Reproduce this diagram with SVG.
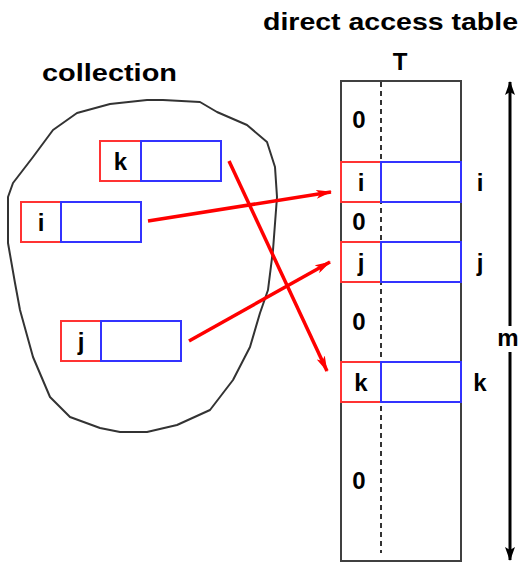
<svg xmlns="http://www.w3.org/2000/svg" width="521" height="563" viewBox="0 0 521 563">
<defs>
<style>
.t{font-family:"Liberation Sans",Arial,sans-serif;font-weight:bold;fill:#000;}
.lbl{font-size:24px;text-anchor:middle;}
.red{fill:none;stroke:#ff3333;stroke-width:2;}
.blue{fill:none;stroke:#3333ff;stroke-width:2;}
.ptr{stroke:#ff0000;stroke-width:3.5;fill:none;}
</style>
<marker id="ah" viewBox="0 0 16 9" refX="15" refY="4.5" markerWidth="16" markerHeight="9" markerUnits="userSpaceOnUse" orient="auto">
<path d="M0,0 L16,4.5 L0,9 L4,4.5 Z" fill="#ff0000"/>
</marker>
<marker id="bh" viewBox="0 0 14 10" refX="13" refY="5" markerWidth="14" markerHeight="10" markerUnits="userSpaceOnUse" orient="auto">
<path d="M0,0 L14,5 L0,10 L3,5 Z" fill="#000"/>
</marker>
</defs>
<rect width="521" height="563" fill="#fff"/>
<g id="titles">
<text class="t" x="263" y="30" font-size="24" textLength="255" lengthAdjust="spacingAndGlyphs">direct access table</text>
<text class="t" x="42" y="81" font-size="24" textLength="135" lengthAdjust="spacingAndGlyphs">collection</text>
<text class="t" x="400" y="70" font-size="24" text-anchor="middle">T</text>
</g>
<g id="collection-outline">
<path d="M53,130 L77,113 L110,104 L147,100 L163,100 L200,102 L217,112 L247,125 L267,142 L275,167 L277,197 L273,250 L268,290 L260,313 L250,347 L233,380 L210,410 L177,425 L147,432 L120,432 L100,428 L70,417 L50,397 L33,357 L20,310 L15,283 L8,243 L8,197 L13,183 L33,157 Z" fill="none" stroke="#333" stroke-width="2" stroke-linejoin="round"/>
</g>
<g id="item-k">
<rect class="red" x="100" y="141" width="41" height="40"/>
<rect class="blue" x="141" y="141" width="80" height="40"/>
<text class="t lbl" x="120.500" y="170">k</text>
</g>
<g id="item-i">
<rect class="red" x="21" y="202" width="40" height="40"/>
<rect class="blue" x="61" y="202" width="80" height="40"/>
<text class="t lbl" x="41" y="231">i</text>
</g>
<g id="item-j">
<rect class="red" x="61" y="321" width="40" height="40"/>
<rect class="blue" x="101" y="321" width="80" height="40"/>
<text class="t lbl" x="81" y="350">j</text>
</g>
<g id="table">
<rect x="341" y="81" width="120" height="480" fill="none" stroke="#404040" stroke-width="2"/>
<line x1="381" y1="82" x2="381" y2="553" stroke="#333" stroke-width="2" stroke-dasharray="5,4"/>
<text class="t lbl" x="359" y="128">0</text>
<text class="t lbl" x="359" y="230">0</text>
<text class="t lbl" x="359" y="330">0</text>
<text class="t lbl" x="359" y="489">0</text>
</g>
<g id="row-i">
<rect x="341" y="162" width="120" height="40" fill="#fff"/>
<rect class="red" x="341" y="162" width="40" height="40"/>
<rect class="blue" x="381" y="162" width="80" height="40"/>
<text class="t lbl" x="361" y="191">i</text>
<text class="t lbl" x="480" y="191">i</text>
</g>
<g id="row-j">
<rect x="341" y="242" width="120" height="40" fill="#fff"/>
<rect class="red" x="341" y="242" width="40" height="40"/>
<rect class="blue" x="381" y="242" width="80" height="40"/>
<text class="t lbl" x="361" y="271">j</text>
<text class="t lbl" x="480" y="271">j</text>
</g>
<g id="row-k">
<rect x="341" y="362" width="120" height="40" fill="#fff"/>
<rect class="red" x="341" y="362" width="40" height="40"/>
<rect class="blue" x="381" y="362" width="80" height="40"/>
<text class="t lbl" x="361" y="391">k</text>
<text class="t lbl" x="480" y="391">k</text>
</g>
<g id="size-m">
<line x1="510" y1="326" x2="510" y2="82" stroke="#000" stroke-width="3" marker-end="url(#bh)"/>
<line x1="510" y1="352" x2="510" y2="560" stroke="#000" stroke-width="3" marker-end="url(#bh)"/>
<text class="t lbl" x="508" y="346">m</text>
</g>
<g id="connectors">
<line class="ptr" x1="148" y1="221" x2="331" y2="192" marker-end="url(#ah)"/>
<line class="ptr" x1="229" y1="161" x2="327" y2="371" marker-end="url(#ah)"/>
<line class="ptr" x1="189" y1="341" x2="330" y2="262" marker-end="url(#ah)"/>
</g>
</svg>
